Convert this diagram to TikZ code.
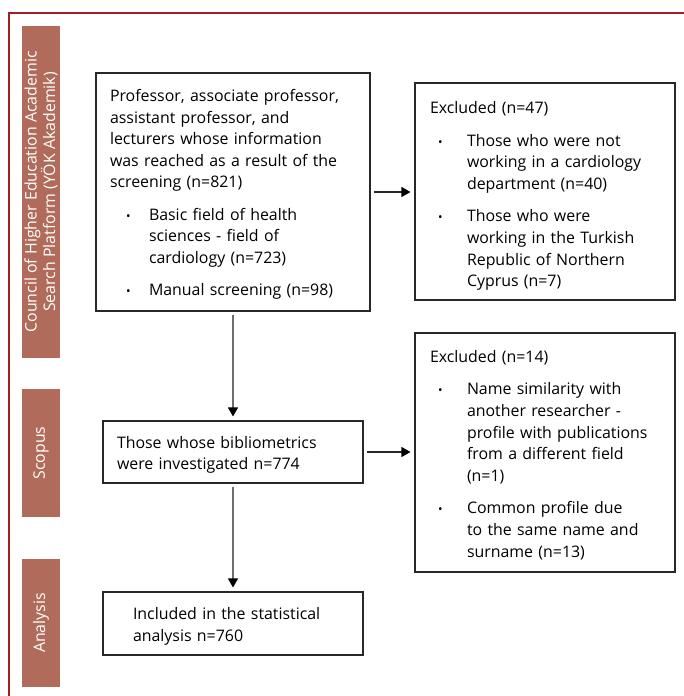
\documentclass[tikz,border=0pt]{standalone}
\usepackage{fontspec}
\setmainfont{Open Sans}
\usetikzlibrary{arrows.meta}
\definecolor{framered}{RGB}{160,30,36}
\definecolor{barbrown}{RGB}{176,107,91}
\definecolor{boxline}{RGB}{40,40,40}
\definecolor{vline}{RGB}{110,110,110}
\newcommand{\bu}[2]{\hspace*{#1}\makebox[#2][l]{{\fontsize{12}{12}\selectfont\textbullet}}}
\newcommand{\ind}[1]{\hspace*{#1}}
\newcommand{\fs}{\fontsize{15.9}{21.6}\selectfont}
\tikzset{
  flowbox/.style={draw=boxline, line width=1.1pt, inner sep=0pt},
  flowtext/.style={align=left, inner sep=0pt, font=\fs, text=black},
  sidebar/.style={fill=barbrown, rotate=90, text=white, align=center, inner sep=0pt, font=\fs, minimum height=38pt},
  flowarrow/.style={draw=black!85, line width=1.1pt, -{Triangle[length=9pt,width=10pt,color=black]}, shorten <=3pt, shorten >=4pt},
  downarrow/.style={flowarrow, draw=vline}
}
\begin{document}
\begin{tikzpicture}[x=1pt,y=-1pt]
\useasboundingbox (0,0) rectangle (683,696);
% outer frame (cut at right and bottom)
\draw[framered, line width=2.4pt] (9,697) -- (9,13) -- (684,13);
% side bars
\node[sidebar, minimum width=332pt] (bar1) at (41,192) {Council of Higher Education Academic\\[-3pt]Search Platform (YÖK Akademik)};
\node[sidebar, minimum width=128pt] (bar2) at (41,453) {Scopus};
\node[sidebar, minimum width=128pt] (bar3) at (41,623) {Analysis};
% boxes
\node[flowbox, minimum width=274pt, minimum height=238pt] (b1) at (233,192) {};
\node[flowbox, minimum width=260pt, minimum height=217pt] (b2) at (545,191.5) {};
\node[flowbox, minimum width=260pt, minimum height=62pt] (b3) at (233,452) {};
\node[flowbox, minimum width=260pt, minimum height=239pt] (b5) at (545,452.5) {};
\node[flowbox, minimum width=260pt, minimum height=63pt] (b4) at (233,623.5) {};
% box texts
\node[flowtext, text width=246pt, yshift=-2.5pt] (t1) at (b1.center) {%
Professor, associate professor,\\
assistant professor, and\\
lecturers whose information\\
was reached as a result of the\\
screening (n=821)\\[10.5pt]
\bu{16pt}{23pt}Basic field of health\\
\ind{39pt}sciences - field of\\
\ind{39pt}cardiology (n=723)\\[11pt]
\bu{16pt}{23pt}Manual screening (n=98)};
\node[flowtext, text width=230pt, yshift=-4.5pt] (t2) at (b2.center) {%
Excluded (n=47)\\[11pt]
\bu{8pt}{29pt}Those who were not\\
\ind{37pt}working in a cardiology\\
\ind{37pt}department (n=40)\\[11pt]
\bu{8pt}{29pt}Those who were\\
\ind{37pt}working in the Turkish\\
\ind{37pt}Republic of Northern\\
\ind{37pt}Cyprus (n=7)};
\node[flowtext, text width=232pt, yshift=-3pt] (t3) at (b3.center) {%
Those whose bibliometrics\\
were investigated n=774};
\node[flowtext, text width=230pt, yshift=-2.5pt] (t5) at (b5.center) {%
Excluded (n=14)\\[11pt]
\bu{8pt}{29pt}Name similarity with\\
\ind{37pt}another researcher -\\
\ind{37pt}profile with publications\\
\ind{37pt}from a different field\\
\ind{37pt}(n=1)\\[11pt]
\bu{8pt}{29pt}Common profile due\\
\ind{37pt}to the same name and\\
\ind{37pt}surname (n=13)};
\node[flowtext, text width=200pt, yshift=-3pt] (t4) at (b4.center) {%
Included in the statistical\\
analysis n=760};
% connectors
\draw[flowarrow] (b1.east) -- (b2.west |- b1.east);
\draw[flowarrow] (b3.east) -- (b5.west |- b3.east);
\draw[downarrow] (b1.south) -- (b3.north);
\draw[downarrow] (b3.south) -- (b4.north);
\end{tikzpicture}
\end{document}
